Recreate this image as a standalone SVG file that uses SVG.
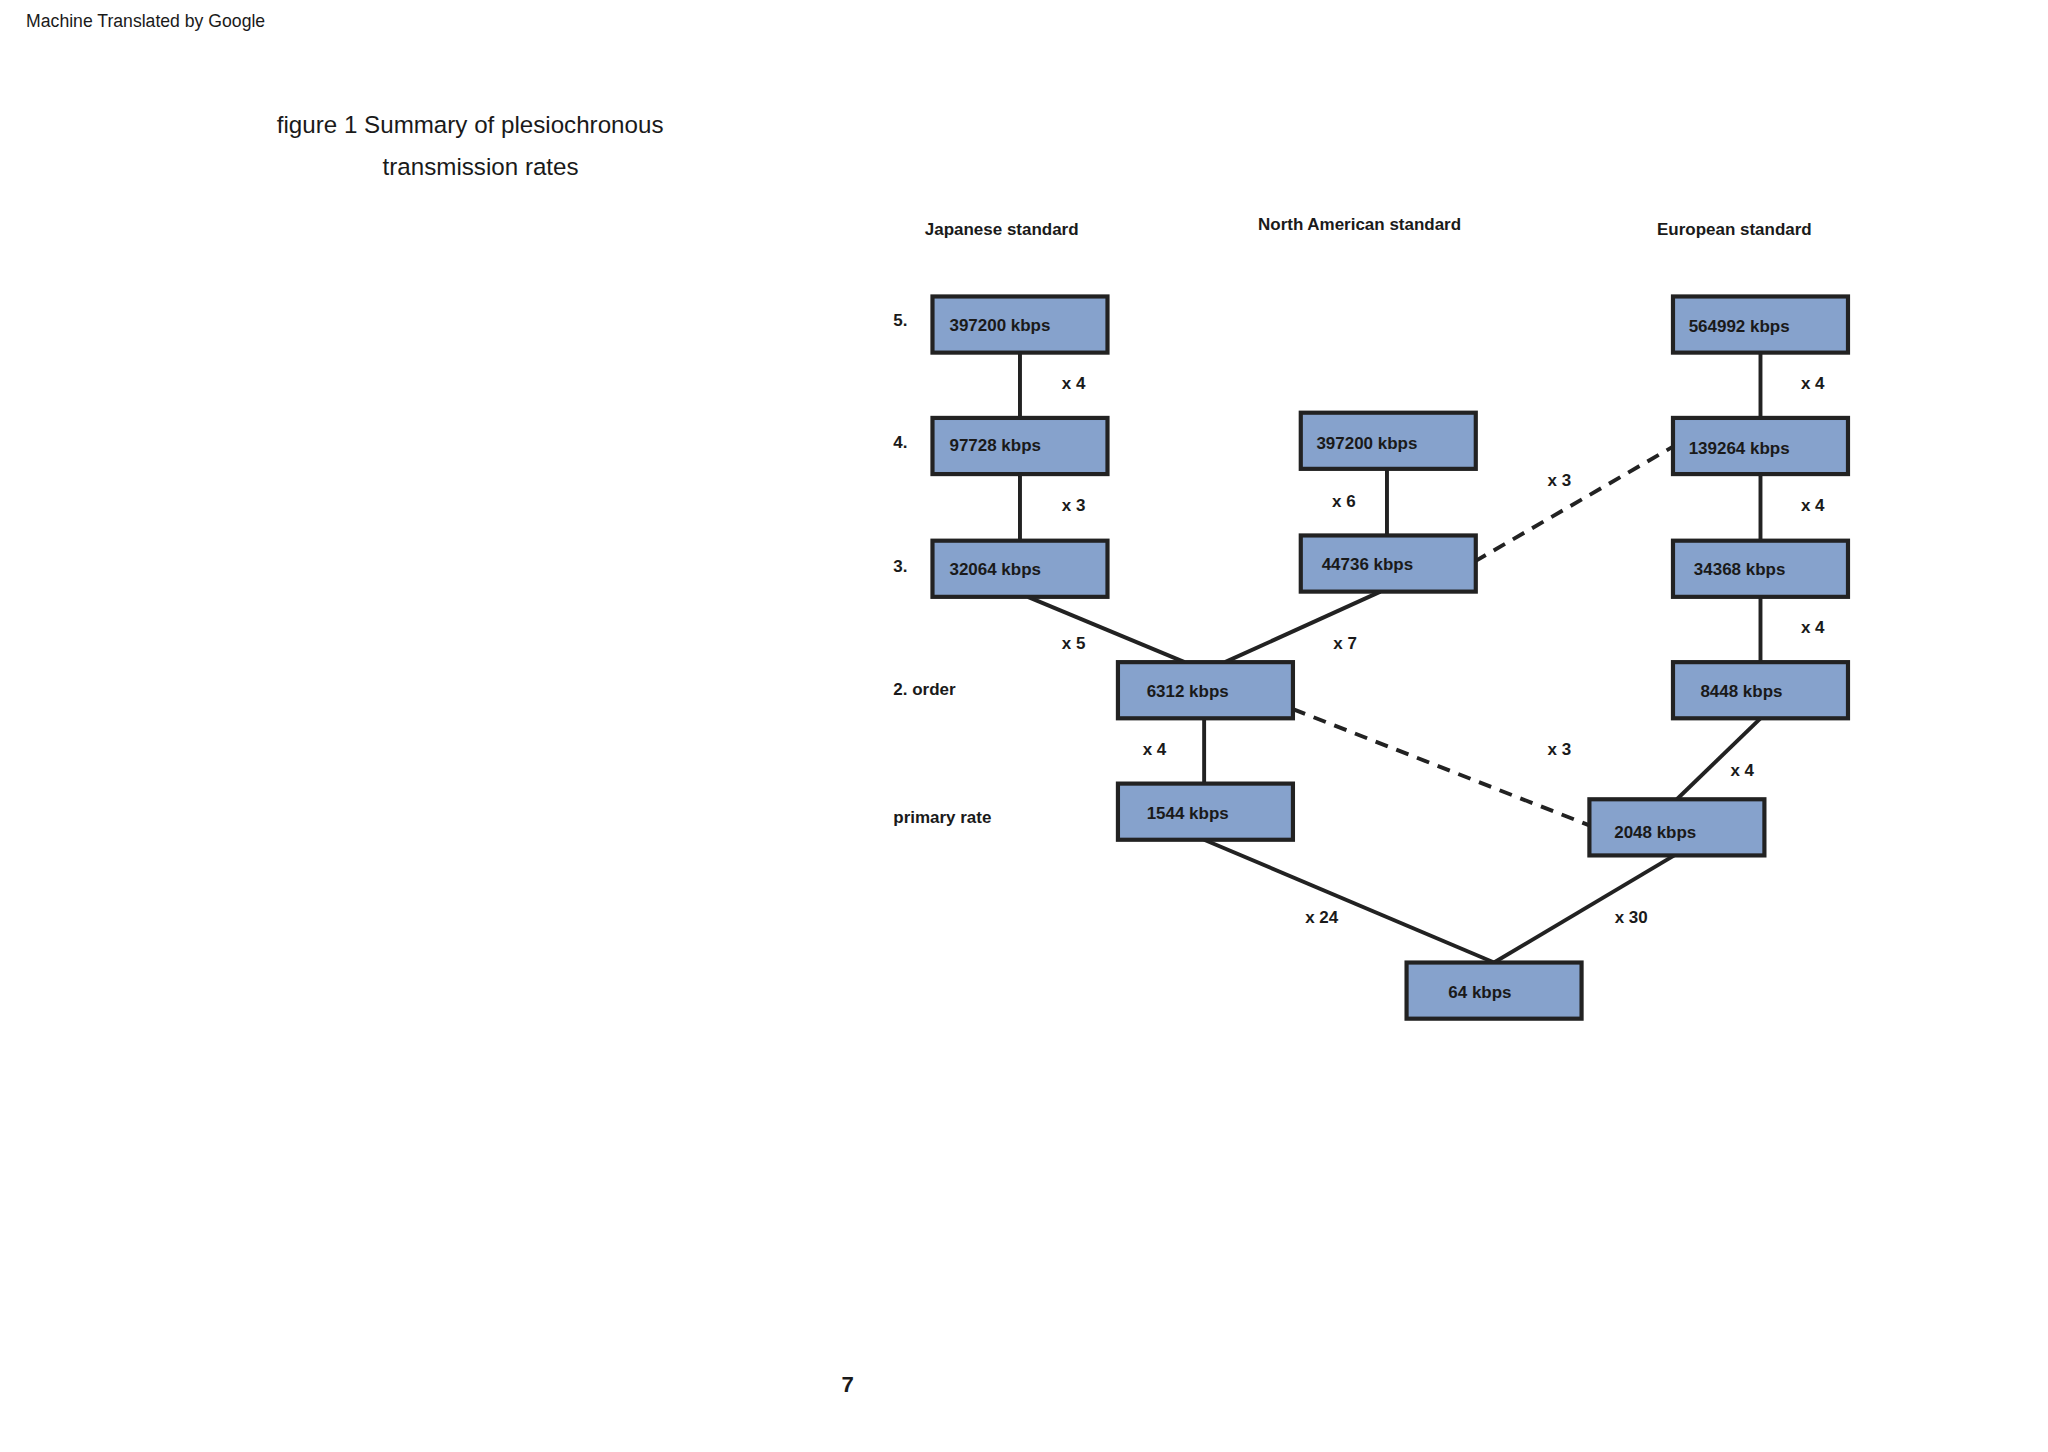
<svg xmlns="http://www.w3.org/2000/svg" width="2048" height="1452" viewBox="0 0 2048 1452">
<style>
text{font-family:"Liberation Sans",Arial,sans-serif;fill:#1a1a1a}
.b{font-weight:bold;font-size:13px}
.bx rect{fill:#86a2cc;stroke:#222;stroke-width:3.2}
.bx text{font-weight:bold;font-size:13px;dominant-baseline:middle}
.c line{stroke:#222;stroke-width:3}
.c .d{stroke-dasharray:10,7}
</style>
<rect width="2048" height="1452" fill="#fff"/>
<g transform="scale(1.306)">
<text x="20" y="21" font-size="13.5">Machine Translated by Google</text>
<text x="360" y="102" font-size="18.5" text-anchor="middle">figure 1 Summary of plesiochronous</text>
<text x="368" y="134" font-size="18.5" text-anchor="middle">transmission rates</text>
<text class="b" x="767" y="180" text-anchor="middle">Japanese standard</text>
<text class="b" x="1041" y="176" text-anchor="middle">North American standard</text>
<text class="b" x="1328" y="180" text-anchor="middle">European standard</text>
<text class="b" x="684" y="250">5.</text>
<text class="b" x="684" y="343">4.</text>
<text class="b" x="684" y="438">3.</text>
<text class="b" x="684" y="532">2. order</text>
<text class="b" x="684" y="630">primary rate</text>
<g class="c" id="connectors">
<line x1="781" y1="270" x2="781" y2="320"/>
<line x1="781" y1="363" x2="781" y2="414"/>
<line x1="787" y1="457" x2="907" y2="507"/>
<line x1="1057" y1="453" x2="938" y2="507"/>
<line x1="1062" y1="359" x2="1062" y2="410"/>
<line x1="922" y1="550" x2="922" y2="600"/>
<line class="d" x1="1129" y1="430" x2="1281" y2="342"/>
<line class="d" x1="990" y1="543" x2="1217" y2="632"/>
<line x1="1348" y1="270" x2="1348" y2="320"/>
<line x1="1348" y1="363" x2="1348" y2="414"/>
<line x1="1348" y1="457" x2="1348" y2="507"/>
<line x1="1348" y1="550" x2="1284" y2="612"/>
<line x1="922" y1="643" x2="1144" y2="737"/>
<line x1="1282" y1="655" x2="1144" y2="737"/>
</g>
<g class="b">
<text class="b" x="822" y="298" text-anchor="middle">x 4</text>
<text class="b" x="822" y="391" text-anchor="middle">x 3</text>
<text class="b" x="822" y="497" text-anchor="middle">x 5</text>
<text class="b" x="1030" y="497" text-anchor="middle">x 7</text>
<text class="b" x="1029" y="388" text-anchor="middle">x 6</text>
<text class="b" x="884" y="578" text-anchor="middle">x 4</text>
<text class="b" x="1194" y="372" text-anchor="middle">x 3</text>
<text class="b" x="1194" y="578" text-anchor="middle">x 3</text>
<text class="b" x="1388" y="298" text-anchor="middle">x 4</text>
<text class="b" x="1388" y="391" text-anchor="middle">x 4</text>
<text class="b" x="1388" y="485" text-anchor="middle">x 4</text>
<text class="b" x="1334" y="594" text-anchor="middle">x 4</text>
<text class="b" x="1012" y="707" text-anchor="middle">x 24</text>
<text class="b" x="1249" y="707" text-anchor="middle">x 30</text>
</g>
<g class="bx" id="j5"><rect x="714" y="227" width="134" height="43"/><text x="727" y="250">397200 kbps</text></g>
<g class="bx" id="j4"><rect x="714" y="320" width="134" height="43"/><text x="727" y="342">97728 kbps</text></g>
<g class="bx" id="j3"><rect x="714" y="414" width="134" height="43"/><text x="727" y="437">32064 kbps</text></g>
<g class="bx" id="na4"><rect x="996" y="316" width="134" height="43"/><text x="1008" y="340">397200 kbps</text></g>
<g class="bx" id="na3"><rect x="996" y="410" width="134" height="43"/><text x="1012" y="433">44736 kbps</text></g>
<g class="bx" id="na2"><rect x="856" y="507" width="134" height="43"/><text x="878" y="530">6312 kbps</text></g>
<g class="bx" id="na1"><rect x="856" y="600" width="134" height="43"/><text x="878" y="624">1544 kbps</text></g>
<g class="bx" id="e5"><rect x="1281" y="227" width="134" height="43"/><text x="1293" y="251">564992 kbps</text></g>
<g class="bx" id="e4"><rect x="1281" y="320" width="134" height="43"/><text x="1293" y="344">139264 kbps</text></g>
<g class="bx" id="e3"><rect x="1281" y="414" width="134" height="43"/><text x="1297" y="437">34368 kbps</text></g>
<g class="bx" id="e2"><rect x="1281" y="507" width="134" height="43"/><text x="1302" y="530">8448 kbps</text></g>
<g class="bx" id="e1"><rect x="1217" y="612" width="134" height="43"/><text x="1236" y="638">2048 kbps</text></g>
<g class="bx" id="b64"><rect x="1077" y="737" width="134" height="43"/><text x="1109" y="761">64 kbps</text></g>
<text x="649" y="1066" font-size="17" font-weight="bold" text-anchor="middle">7</text>
</g>
</svg>
